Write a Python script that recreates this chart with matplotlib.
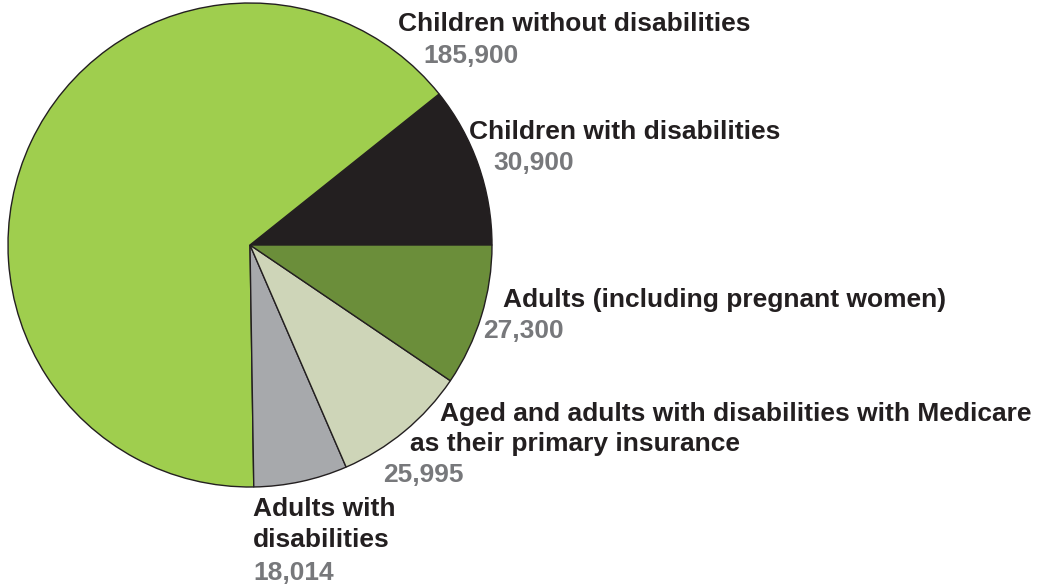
import matplotlib.pyplot as plt

W, H = 1038, 585

# Enrollment by group, in the order the wedges are laid out (counterclockwise from 3 o'clock)
groups = [
    "Children with disabilities",
    "Children without disabilities",
    "Adults with disabilities",
    "Aged and adults with disabilities with Medicare as their primary insurance",
    "Adults (including pregnant women)",
]
enrollment = [30900, 185900, 18014, 25995, 27300]
wedge_colors = ["#231F20", "#9FCE4E", "#A7A9AC", "#CED5B8", "#6B8E3A"]

# label text lines for each group (name lines, then the value)
label_lines = {
    "Children without disabilities": ["Children without disabilities"],
    "Children with disabilities": ["Children with disabilities"],
    "Adults (including pregnant women)": ["Adults (including pregnant women)"],
    "Aged and adults with disabilities with Medicare as their primary insurance":
        ["Aged and adults with disabilities with Medicare", "as their primary insurance"],
    "Adults with disabilities": ["Adults with", "disabilities"],
}

NAME_COLOR = "#231F20"
VALUE_COLOR = "#77787B"

fig = plt.figure(figsize=(W / 100, H / 100), dpi=100)
ax = fig.add_axes([0, 0, 1, 1])

cx, cy, r = 250, H - 245, 242
ax.pie(enrollment, colors=wedge_colors, startangle=0, counterclock=True,
       center=(cx, cy), radius=r, frame=True,
       wedgeprops=dict(edgecolor="#231F20", linewidth=1.0))
ax.set_xlim(0, W)
ax.set_ylim(0, H)
ax.set_aspect("equal")
ax.axis("off")

# (x of each name line, baselines in px from top, x of value, value baseline)
placement = {
    "Children without disabilities": ([398], [31], 423, 63),
    "Children with disabilities": ([469], [139], 493, 170),
    "Adults (including pregnant women)": ([503], [307], 483, 338),
    "Aged and adults with disabilities with Medicare as their primary insurance":
        ([440, 410], [421, 451], 383, 482),
    "Adults with disabilities": ([253, 253], [516, 547], 253, 580),
}

for g, v in zip(groups, enrollment):
    xs, ys, vx, vy = placement[g]
    for line, x, y in zip(label_lines[g], xs, ys):
        ax.text(x, H - y, line, ha="left", va="baseline", fontsize=19,
                fontweight="bold", color=NAME_COLOR, family="Liberation Sans")
    ax.text(vx, H - vy, f"{v:,}", ha="left", va="baseline", fontsize=19,
            fontweight="bold", color=VALUE_COLOR, family="Liberation Sans")

fig.savefig("out.png", dpi=100, facecolor="white")
